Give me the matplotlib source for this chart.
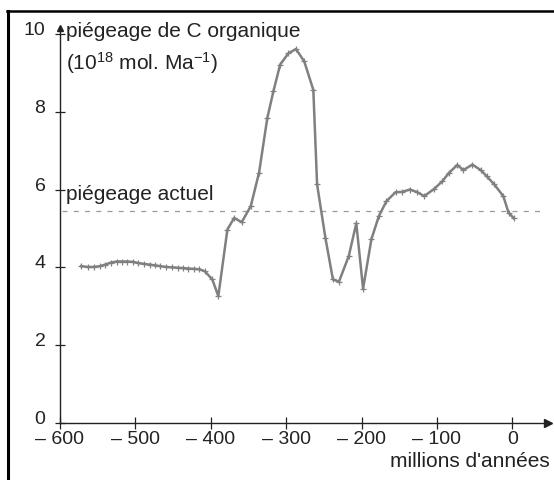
"""Piégeage de C organique au cours des 600 derniers millions d'années."""

import matplotlib
matplotlib.use("Agg")
import matplotlib.pyplot as plt
from matplotlib.lines import Line2D

plt.rcParams["font.family"] = ["Liberation Sans", "DejaVu Sans"]
plt.rcParams["mathtext.fontset"] = "custom"
plt.rcParams["mathtext.rm"] = "Liberation Sans"
plt.rcParams["mathtext.it"] = "Liberation Sans:italic"

# age (Ma, negative = past) and burial rate (10^18 mol/Ma)
ages = [-572, -563, -555, -547, -540, -533, -525, -518, -511, -503, -496, -489,
        -481, -474, -467, -459, -452, -444, -437, -430, -422, -415, -408, -398,
        -390, -378, -369, -359, -347, -336, -325, -317, -308, -297, -287, -276,
        -264, -259, -248, -238, -230, -217, -207, -198, -187, -177, -167, -155,
        -146, -136, -126, -117, -104, -93, -84, -73, -65, -53, -42, -34, -24,
        -12, -5, 2]
burial = [4.03, 4.01, 4.01, 4.03, 4.07, 4.12, 4.15, 4.15, 4.15, 4.14, 4.11, 4.09,
          4.07, 4.05, 4.03, 4.01, 4.00, 3.99, 3.98, 3.97, 3.96, 3.95, 3.90, 3.69,
          3.26, 4.97, 5.27, 5.16, 5.57, 6.43, 7.84, 8.52, 9.21, 9.50, 9.61, 9.29,
          8.56, 6.13, 4.76, 3.69, 3.63, 4.29, 5.13, 3.45, 4.72, 5.32, 5.70, 5.93,
          5.94, 6.00, 5.93, 5.83, 6.01, 6.21, 6.43, 6.63, 6.50, 6.64, 6.50, 6.34,
          6.13, 5.83, 5.40, 5.26]
current_level = 5.44
current_span = [-598, 37]

xticks = [-600, -500, -400, -300, -200, -100, 0]
xtick_labels = ["– 600", "– 500", "– 400", "– 300", "– 200", "– 100", "0"]
yticks = [0, 2, 4, 6, 8, 10]

GREY = "#808080"

fig = plt.figure(figsize=(5.54, 4.81), dpi=100)
ax = fig.add_axes([0.1083, 0.1185, 0.8805, 0.8212])

ax.plot(ages, burial, color=GREY, lw=1.8, marker="+", ms=4, mew=0.9,
        solid_joinstyle="round", zorder=3)
ax.plot(current_span, [current_level, current_level], color="#9a9a9a",
        lw=0.9, dashes=(4, 5))

ax.set_xlim(-600, 47)
ax.set_ylim(0, 10.15)
for side in ("top", "right"):
    ax.spines[side].set_visible(False)
for side in ("left", "bottom"):
    ax.spines[side].set_linewidth(1.0)
    ax.spines[side].set_color("#222222")

# axis arrowheads
ax.plot(1, 0, marker=">", ms=6, color="#222222", transform=ax.transAxes, clip_on=False)
ax.plot(0, 1, marker="^", ms=5, color="#222222", transform=ax.transAxes, clip_on=False)

ax.set_xticks(xticks)
ax.set_xticklabels(xtick_labels)
ax.set_yticks(yticks)
ax.tick_params(axis="x", direction="inout", length=8, width=0.9, pad=1,
               labelsize=14, colors="#222222")
ax.tick_params(axis="y", direction="inout", length=7, width=0.9, pad=7,
               labelsize=14, colors="#222222")
for lab in ax.get_yticklabels():
    lab.set_verticalalignment("baseline")

ax.text(0.012, 0.993, "piégeage de C organique", transform=ax.transAxes,
        fontsize=15, va="center", ha="left", color="#222222")
ax.text(0.012, 0.915, "(10$^{18}$ mol. Ma$^{-1}$)", transform=ax.transAxes,
        fontsize=15, va="center", ha="left", color="#222222")
ax.text(-592, 5.75, "piégeage actuel", fontsize=15, va="baseline", ha="left",
        color="#222222")
fig.text(0.993, 0.04, "millions d'années", fontsize=15, ha="right",
         va="center", color="#222222")

# scan frame: top and left border lines
fig.add_artist(Line2D([0.013, 1.0], [0.975, 0.975], color="black", lw=1.8,
                      transform=fig.transFigure))
fig.add_artist(Line2D([0.0145, 0.0145], [0.0, 0.975], color="black", lw=2.2,
                      transform=fig.transFigure))

fig.savefig("out.png", dpi=100)
